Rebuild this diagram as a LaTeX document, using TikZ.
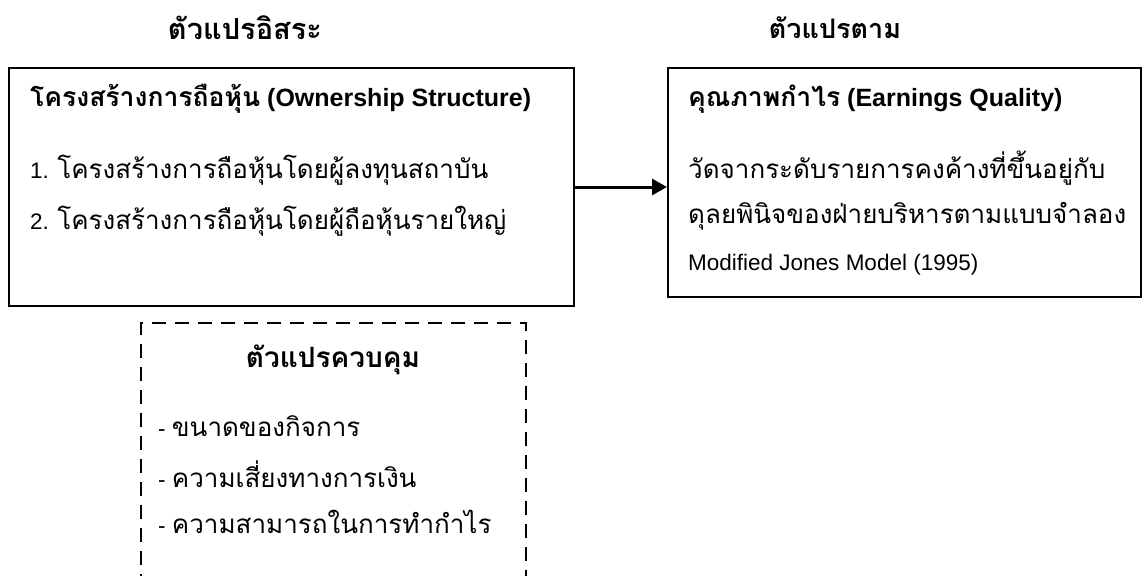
\documentclass[tikz,border=0pt]{standalone}
\usepackage{fontspec}
\setmainfont{Liberation Sans}
\newfontfamily\thaifont[Script=Thai]{Loma}
% Thai runs inside body lines (regular) and inside bold titles
\newcommand\thaitext[1]{{\thaifont\fontsize{26}{30}\selectfont #1}}
\newcommand\thaititle[1]{{\thaifont\fontsize{26.5}{30}\selectfont #1}}
\usetikzlibrary{arrows.meta}
\tikzset{
  frame/.style={draw, line width=2pt, inner sep=0pt},
  dashframe/.style={draw, line width=1.6pt, dash pattern=on 14pt off 9pt, inner sep=0pt},
  heading/.style={font=\thaifont\bfseries\fontsize{28}{32}\selectfont, inner sep=0pt},
  body/.style={font=\fontsize{22.5}{26}\selectfont, anchor=west, inner sep=0pt},
  bodyb/.style={font=\fontsize{25}{28}\selectfont\bfseries, anchor=west, inner sep=0pt},
  link/.style={line width=3pt, -{Triangle[length=15pt,width=16pt]}},
}
\begin{document}
\begin{tikzpicture}[x=1pt,y=-1pt]
\useasboundingbox (0,0) rectangle (1144,576);
% column headings
\node[heading, font=\thaifont\bfseries\fontsize{29}{32}\selectfont] (h1) at (245,28) {ตัวแปรอิสระ};
\node[heading, font=\thaifont\bfseries\fontsize{27}{32}\selectfont] (h2) at (835,28) {ตัวแปรตาม};
% independent variable box
\node[frame, minimum width=565pt, minimum height=238pt] (ind) at (291.5,187) {};
\node[bodyb] (indt) at (30,99) {\thaititle{โครงสร้างการถือหุ้น} (Ownership Structure)};
\node[body] (ind1) at (30,170) {1. \thaitext{โครงสร้างการถือหุ้นโดยผู้ลงทุนสถาบัน}};
\node[body] (ind2) at (30,221) {2. \thaitext{โครงสร้างการถือหุ้นโดยผู้ถือหุ้นรายใหญ่}};
% dependent variable box
\node[frame, minimum width=473pt, minimum height=229pt] (dep) at (904.5,182.5) {};
\node[bodyb] (dept) at (688,99) {\thaititle{คุณภาพกำไร} (Earnings Quality)};
\node[body] (dep1) at (688,168) {\thaitext{วัดจากระดับรายการคงค้างที่ขึ้นอยู่กับ}};
\node[body] (dep2) at (688,216) {\thaitext{ดุลยพินิจของฝ่ายบริหารตามแบบจำลอง}};
\node[body] (dep3) at (688,265) {Modified Jones Model (1995)};
% control variable box (runs past the lower edge)
\node[dashframe, minimum width=385pt, minimum height=290pt] (ctl) at (333.5,468) {};
\node[heading] (ctlt) at (333,360) {ตัวแปรควบคุม};
\node[body] (ctl1) at (158,426) {- \thaitext{ขนาดของกิจการ}};
\node[body] (ctl2) at (158,474) {- \thaitext{ความเสี่ยงทางการเงิน}};
\node[body] (ctl3) at (158,522) {- \thaitext{ความสามารถในการทำกำไร}};
% relation arrow
\draw[link] (ind.east) -- (ind.east -| dep.west);
\end{tikzpicture}
\end{document}
